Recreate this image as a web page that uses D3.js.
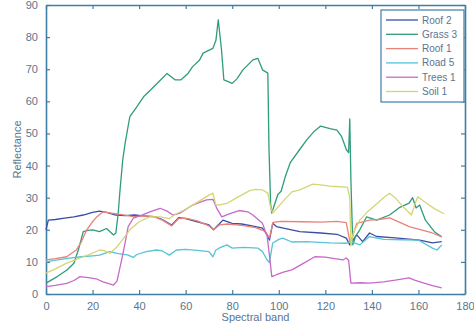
<!DOCTYPE html>
<html>
<head>
<meta charset="utf-8">
<script src="https://cdn.jsdelivr.net/npm/d3@7"></script>
<style>
  body { margin: 0; background: #fff; }
  text { font-family: "Liberation Sans", Arial, sans-serif; }
</style>
</head>
<body>
<div id="container"></div>
<script>
// [band, reflectance] pairs
const roof2 = [[0,20],[1,23],[4,23.2],[8,23.6],[12,24],[16,24.6],[20,25.4],[23,25.8],[26,25.4],[30,24.6],[34,24.4],[38,24.6],[42,24.3],[47,24],[50,23.2],[54,21.5],[57,23.8],[60,23.5],[65,22.5],[70,21.5],[72,20],[74,21.5],[76,23],[80,22],[84,21.8],[88,21.3],[93,20.5],[95,18.4],[96,16.8],[97.4,22],[99,21],[102,20.5],[109,19.4],[118,19],[125,18.6],[129,17.4],[130.5,15.3],[133.5,18.4],[136,16.3],[139,19],[142,17.9],[150,17.5],[160.5,16.8],[166,15.9],[170,16.3]];
const grass3 = [[0,3.4],[5,5.5],[9,7.5],[12,9.6],[14,14],[16,19.4],[18,19.8],[20,20],[23,19.4],[26,20.4],[29,18.4],[30,19],[31,25],[31.8,32.4],[33,42],[34,47],[36,55.2],[39,58.3],[42,61.5],[45,63.6],[49,66.5],[52,68.7],[55.4,66.7],[58,66.7],[61,68.7],[63,70.8],[66,72.9],[67.5,75],[71.7,76.5],[73,79],[74,85.4],[75.4,76],[76.4,66.7],[78,66.2],[80,65.6],[82,67],[84.6,69.8],[88.9,72.9],[91,73.4],[93,69.8],[95.3,68.8],[95.8,45],[96.5,28],[97,25.2],[98,27.5],[99.6,31],[101,32],[103,37],[105,41],[109,45],[112,48],[115,50.5],[118,52.3],[122,51.5],[125,51],[127,49],[128,47],[129,45],[130,44],[130.5,54.5],[131,35],[131.8,15.3],[133,18],[134.8,20],[137.7,24],[142,23],[147.6,24.6],[152,27],[156,28.3],[157.5,30],[159,26.8],[160.5,27.7],[163,23],[167,19.3],[170,17.8]];
const roof1 = [[0,10.6],[4,11],[8.9,11.6],[13,13.7],[15,16],[17.5,20],[20,22.5],[21.8,24],[24.5,25.6],[28,25.2],[32,24.8],[37.5,24.1],[42,24.3],[46,24.2],[50,23],[54,21.2],[57,23.5],[60,23.6],[65,22.8],[70,21.2],[72,20],[74.5,21.5],[78,21.8],[84,21.4],[90,20.7],[94,19.6],[96,17.5],[97.5,22.3],[101,22.6],[110,22.5],[118,22.4],[125,22.6],[129,22.2],[130.5,16.5],[131.5,17.5],[133.5,22],[139,23],[143,23.2],[147.6,23.7],[152,22.3],[156,21],[160,20.2],[166,19],[170,17.8]];
const road5 = [[0,10],[5,10.6],[10,11.2],[15,11.6],[20,11.9],[23,12.1],[27.5,13.2],[31,12.6],[35,12.2],[37.5,11.4],[39,12.3],[43,13.2],[47.5,13.7],[50,13.4],[53,12.1],[56,13.7],[60,13.9],[65,13.6],[70,13.2],[71.7,11.6],[73,13.7],[75,14.5],[77.7,15.3],[80,14.3],[85,14.5],[91,14.3],[93,13.2],[95,10.6],[96,9.8],[97.4,15.9],[100,17],[101.7,17.4],[105.6,16.2],[112,16.3],[117.6,16.1],[122,15.9],[129,15.8],[131,16.3],[134.8,15.3],[139,17.9],[145,17],[153,16.9],[160,16.8],[166,14.3],[168,13.7],[170,15.3]];
const trees1 = [[0,2.3],[4,2.7],[8.9,3.3],[12,4.2],[14.6,5.4],[19,5],[22,4.6],[24.5,3.8],[27,3.2],[29,2.8],[30.5,4],[32.5,10.6],[34,16],[35.3,21],[37.5,23.6],[41,24.5],[44.6,25.6],[49,26.7],[52,25.8],[54.5,24.6],[57.5,25.2],[60,26.3],[63,27.7],[66,28.5],[69,29.3],[71.7,29.5],[73.5,26.5],[75.5,24],[79,25],[83,26],[86.7,25.6],[89,24.5],[93,22],[95,18],[96,12],[97,5.4],[99,6],[102,6.8],[105.6,7.5],[110,9.3],[115.5,11.6],[120,11.5],[124,11],[127.5,10.6],[129,11.2],[130,10.5],[131,3.4],[135,3.5],[139,3.4],[145,3.8],[150,4.3],[156,5],[158,4.4],[162,3.5],[166,2.6],[170,1.9]];
const soil1 = [[0,6.5],[4,7.8],[8.9,9.6],[12,10.5],[16,11.6],[20,12.7],[23,13.7],[25,13.5],[27.5,12.7],[30,14.3],[31.8,15.9],[34,18],[36,20],[40,22.5],[44.6,24],[49,24],[53,23.5],[56,25],[59,26],[62,27.2],[66,29],[70,30.8],[71.7,31.4],[73,27.7],[75,27.8],[77.7,28.2],[82,30],[87.5,32.2],[90,32.6],[93,32.4],[95.3,31.4],[96.5,27],[97.4,25.2],[99,26.5],[102,29],[105.6,31.8],[109,32.4],[114.6,34.2],[118,34],[122,33.6],[126,33.4],[129.5,33.3],[130.5,30],[131,15],[132,19],[134.8,23],[138,25.5],[142,28],[145,30],[147.6,31.4],[150,30],[152,28.3],[155,26],[157,24.6],[158.5,28],[159.7,30.3],[163,28.5],[167,26.5],[171,25]];

const seriesNames = ['Roof 2', 'Grass 3', 'Roof 1', 'Road 5', 'Trees 1', 'Soil 1'];
const seriesData = [roof2, grass3, roof1, road5, trees1, soil1];
const seriesColors = ['#3b4ea6', '#2f9c7c', '#e9837a', '#55c4d6', '#c869c9', '#d3d672'];

const xTicks = [0, 20, 40, 60, 80, 100, 120, 140, 160, 180];
const yTicks = [0, 10, 20, 30, 40, 50, 60, 70, 80, 90];

const width = 474, height = 329;
const margin = { top: 5, right: 9, bottom: 35, left: 46 };
const axisColor = '#3e7fa3';
const textColor = '#5a7590';

const svg = d3.select('#container').append('svg')
  .attr('width', width)
  .attr('height', height);

const x = d3.scaleLinear().domain([0, 180]).range([margin.left, width - margin.right]);
const y = d3.scaleLinear().domain([0, 90]).range([height - margin.bottom, margin.top]);

// axes (ticks pointing inward, box on all sides)
const bottomAxis = svg.append('g')
  .attr('transform', 'translate(0,' + y(0) + ')')
  .call(d3.axisBottom(x).tickValues(xTicks).tickSizeInner(-4).tickSizeOuter(0).tickPadding(8));
const leftAxis = svg.append('g')
  .attr('transform', 'translate(' + x(0) + ',0)')
  .call(d3.axisLeft(y).tickValues(yTicks).tickSizeInner(-4).tickSizeOuter(0).tickPadding(8));
const topAxis = svg.append('g')
  .attr('transform', 'translate(0,' + y(90) + ')')
  .call(d3.axisTop(x).tickValues(xTicks).tickSizeInner(-4).tickSizeOuter(0).tickFormat(''));
const rightAxis = svg.append('g')
  .attr('transform', 'translate(' + x(180) + ',0)')
  .call(d3.axisRight(y).tickValues(yTicks).tickSizeInner(-4).tickSizeOuter(0).tickFormat(''));

[bottomAxis, leftAxis, topAxis, rightAxis].forEach(function (g) {
  g.select('.domain').attr('stroke', axisColor).attr('stroke-width', 1.6);
  g.selectAll('.tick line').attr('stroke', axisColor).attr('stroke-width', 1.2);
  g.selectAll('.tick text').attr('fill', textColor).style('font-size', '11px');
});

// lines
const line = d3.line()
  .x(function (d) { return x(d[0]); })
  .y(function (d) { return y(d[1]); });

const plot = svg.append('g');
seriesData.forEach(function (data, i) {
  plot.append('path')
    .datum(data)
    .attr('fill', 'none')
    .attr('stroke', seriesColors[i])
    .attr('stroke-width', 1.3)
    .attr('stroke-linejoin', 'round')
    .attr('d', line);
});

// axis labels
svg.append('text')
  .attr('x', (x(0) + x(180)) / 2)
  .attr('y', 321)
  .attr('text-anchor', 'middle')
  .attr('fill', textColor)
  .style('font-size', '11px')
  .text('Spectral band');

svg.append('text')
  .attr('transform', 'translate(21,' + ((y(0) + y(90)) / 2) + ') rotate(-90)')
  .attr('text-anchor', 'middle')
  .attr('fill', textColor)
  .style('font-size', '11px')
  .text('Reflectance');

// legend
const legend = svg.append('g').attr('transform', 'translate(381,10)');
legend.append('rect')
  .attr('width', 83)
  .attr('height', 92)
  .attr('fill', '#fff')
  .attr('stroke', axisColor)
  .attr('stroke-width', 1.2);

const item = legend.selectAll('.item')
  .data(seriesNames)
  .enter().append('g')
  .attr('class', 'item')
  .attr('transform', function (d, i) { return 'translate(0,' + (10 + i * 14.3) + ')'; });

item.append('line')
  .attr('x1', 5)
  .attr('x2', 37)
  .attr('stroke', function (d, i) { return seriesColors[i]; })
  .attr('stroke-width', 1.3);

item.append('text')
  .attr('x', 41)
  .attr('dy', '.35em')
  .attr('fill', textColor)
  .style('font-size', '10px')
  .text(function (d) { return d; });
</script>
</body>
</html>
